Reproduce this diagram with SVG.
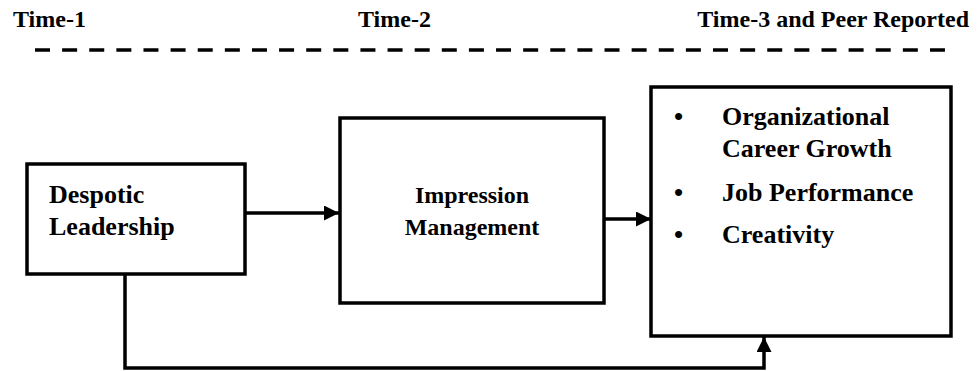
<svg xmlns="http://www.w3.org/2000/svg" width="977" height="371" viewBox="0 0 977 371">
<defs>
<style>
.t{font-family:"Liberation Serif","Times New Roman",serif;font-weight:bold;fill:#000}
.box{fill:#fff;stroke:#000;stroke-width:3.5}
.ln{fill:none;stroke:#000;stroke-width:3.5}
</style>
<marker id="ah" markerWidth="16" markerHeight="16" refX="15" refY="7.5" orient="auto" markerUnits="userSpaceOnUse">
<path d="M0,0 L15,7.5 L0,15 Z" fill="#000"/>
</marker>
</defs>
<rect width="977" height="371" fill="#fff"/>
<g id="header">
<text class="t" x="13" y="27" font-size="24">Time-1</text>
<text class="t" x="358" y="27" font-size="24">Time-2</text>
<text class="t" x="969" y="27" font-size="24" text-anchor="end">Time-3 and Peer Reported</text>
<line x1="35" y1="50" x2="945" y2="50" stroke="#000" stroke-width="3.5" stroke-dasharray="15,12.12"/>
</g>
<g id="connectors">
<line class="ln" x1="245" y1="213" x2="339" y2="213" marker-end="url(#ah)"/>
<line class="ln" x1="604" y1="219" x2="651" y2="219" marker-end="url(#ah)"/>
<polyline class="ln" points="125,274 125,368 764,368 764,337" marker-end="url(#ah)"/>
</g>
<g id="despotic">
<rect class="box" x="27" y="164" width="218" height="110"/>
<text class="t" x="49" y="203" font-size="26">Despotic</text>
<text class="t" x="49" y="235" font-size="26">Leadership</text>
</g>
<g id="impression">
<rect class="box" x="340" y="118" width="264" height="185"/>
<text class="t" x="472" y="203" font-size="24" text-anchor="middle">Impression</text>
<text class="t" x="472" y="235" font-size="24" text-anchor="middle">Management</text>
</g>
<g id="outcomes">
<rect class="box" x="651" y="87" width="300" height="249"/>
<text class="t" x="674" y="125" font-size="26">•</text>
<text class="t" x="722" y="125" font-size="26">Organizational</text>
<text class="t" x="722" y="157" font-size="26">Career Growth</text>
<text class="t" x="674" y="201" font-size="26">•</text>
<text class="t" x="722" y="201" font-size="26">Job Performance</text>
<text class="t" x="674" y="243" font-size="26">•</text>
<text class="t" x="722" y="243" font-size="26">Creativity</text>
</g>
</svg>
